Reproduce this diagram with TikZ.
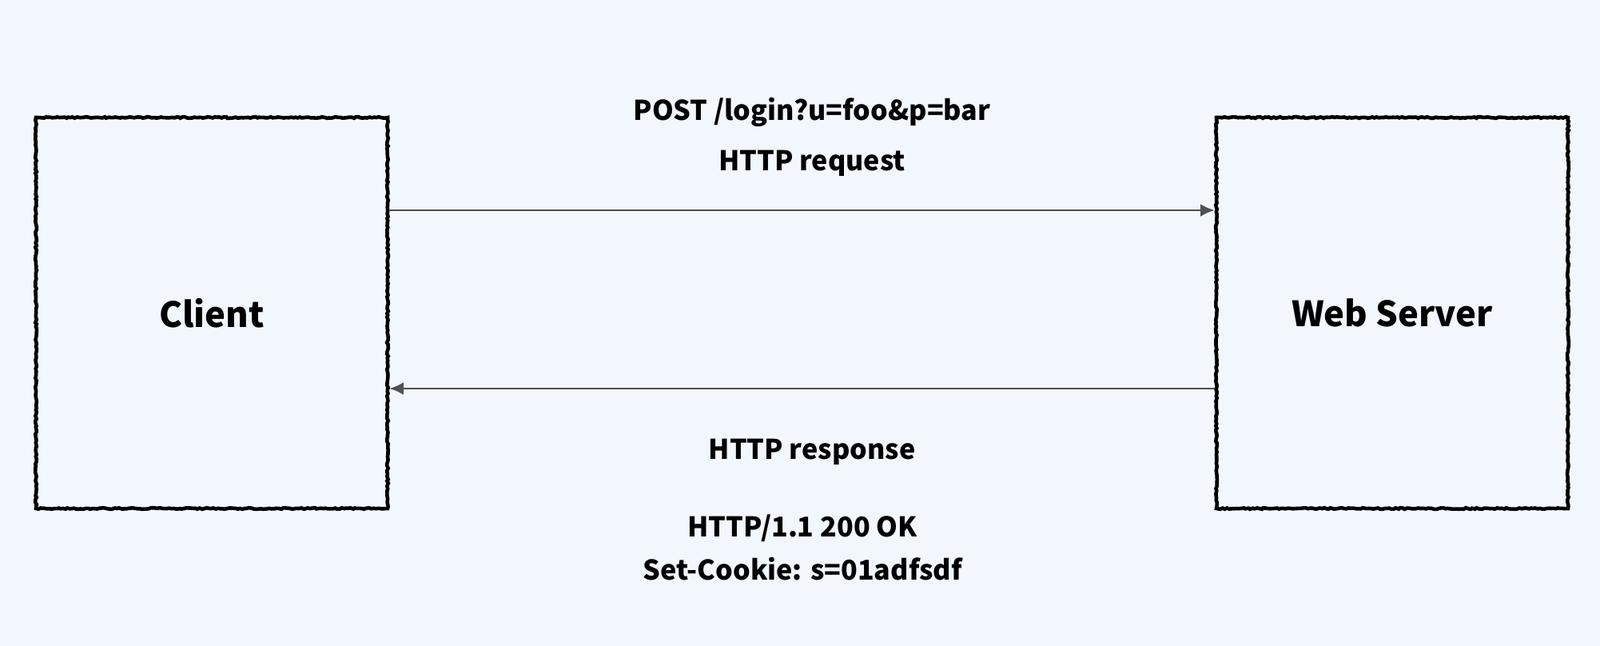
\documentclass[tikz,border=0pt]{standalone}
\usepackage{fontspec}
\setmainfont{Noto Sans CJK SC}
\usetikzlibrary{arrows.meta,decorations.pathmorphing}
\definecolor{bg}{HTML}{F2F6FD}
\definecolor{arrowgray}{HTML}{505050}
\tikzset{
  box/.style={draw=black, line width=1.3pt, minimum width=4.4cm, minimum height=4.89cm, inner sep=0pt,
    decorate, decoration={random steps, segment length=0.8pt, amplitude=0.25pt}},
  boxlbl/.style={font=\bfseries\fontsize{12.4}{15}\selectfont, inner sep=0pt},
  msg/.style={draw=arrowgray, line width=0.7pt, -{Latex[length=5pt,width=4.5pt]}},
  lbl/.style={font=\bfseries\fontsize{9.7}{12}\selectfont, inner sep=0pt, anchor=center}
}
\begin{document}
\begin{tikzpicture}
\fill[bg] (0,0) rectangle (20.02,-8.08);
\useasboundingbox (0,0) rectangle (20.02,-8.08);
\node[box] (client) at (2.65,-3.915) {};
\node[boxlbl] (clientlbl) at (client.center) {Client};
\node[box] (server) at (17.42,-3.915) {};
\node[boxlbl] (serverlbl) at (server.center) {Web Server};
\draw[msg] ([yshift=1.285cm]client.east) -- ([yshift=1.285cm]server.west);
\draw[msg] ([yshift=-0.945cm]server.west) -- ([yshift=-0.945cm]client.east);
\node[lbl] (post) at (10.16,-1.40) {POST /login?u=foo\&p=bar};
\node[lbl] (req) at (10.16,-2.04) {HTTP request};
\node[lbl] (resp) at (10.16,-5.65) {HTTP response};
\node[lbl] (ok) at (10.04,-6.61) {HTTP/1.1 200 OK};
\node[lbl] (cookie) at (10.04,-7.12) {Set-Cookie: s=01adfsdf};
\end{tikzpicture}
\end{document}
